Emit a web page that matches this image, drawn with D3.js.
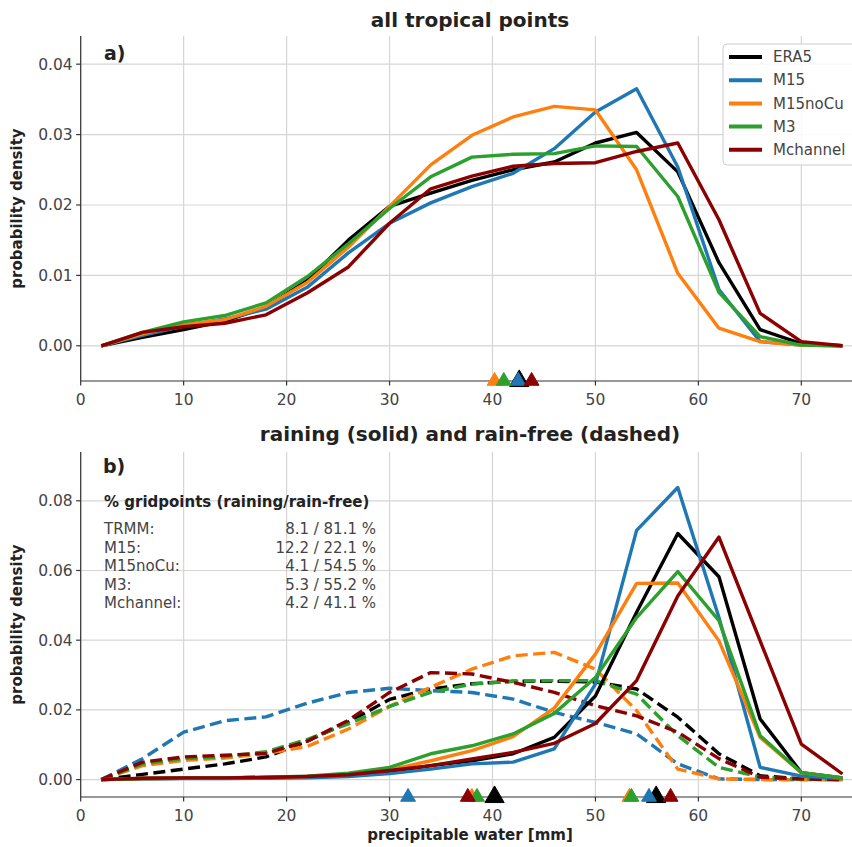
<!DOCTYPE html>
<html lang="en">
<head>
  <meta charset="utf-8">
  <title>Precipitable water PDFs</title>
  <script src="https://d3js.org/d3.v7.min.js"></script>
  <style>
    body { margin: 0; background: #fff; }
    svg { display: block; font-family: "DejaVu Sans", sans-serif; }
    .grid line { stroke: #d5d5d5; stroke-width: 1.2; }
    .tick-label { fill: #444; font-size: 15.5px; }
    .spine { stroke: #333; stroke-width: 1.2; }
  </style>
</head>
<body>
<script>
  // x positions of the bins (mm)
  const pw = [2, 6, 10, 14, 18, 22, 26, 30, 34, 38, 42, 46, 50, 54, 58, 62, 66, 70, 74];

  const models = ["ERA5", "M15", "M15noCu", "M3", "Mchannel"];
  const colors = ["#000000", "#1f77b4", "#ff7f0e", "#2ca02c", "#8b0000"];

  // panel a) all tropical points
  const allERA5     = [0, 0.0012, 0.0023, 0.0035, 0.0055, 0.0093, 0.0150, 0.0198, 0.0217, 0.0235, 0.0250, 0.0261, 0.0288, 0.0303, 0.0247, 0.0118, 0.0023, 0.0003, 0];
  const allM15      = [0, 0.0015, 0.0028, 0.0038, 0.0052, 0.0083, 0.0132, 0.0174, 0.0203, 0.0226, 0.0245, 0.0280, 0.0332, 0.0365, 0.0254, 0.0080, 0.0006, 0.0001, 0];
  const allM15noCu  = [0, 0.0017, 0.0030, 0.0037, 0.0056, 0.0090, 0.0140, 0.0198, 0.0257, 0.0299, 0.0325, 0.0340, 0.0335, 0.0250, 0.0103, 0.0025, 0.0006, 0.0001, 0];
  const allM3       = [0, 0.0019, 0.0034, 0.0043, 0.0061, 0.0098, 0.0145, 0.0195, 0.0240, 0.0268, 0.0272, 0.0273, 0.0284, 0.0283, 0.0212, 0.0076, 0.0013, 0.0001, 0];
  const allMchannel = [0, 0.0019, 0.0027, 0.0032, 0.0044, 0.0075, 0.0112, 0.0174, 0.0223, 0.0241, 0.0255, 0.0259, 0.0260, 0.0276, 0.0288, 0.0179, 0.0046, 0.0006, 0];
  const allMeans    = [42.6, 42.5, 40.2, 41.1, 43.8];

  // panel b) raining (solid)
  const rainERA5     = [0, 0.0003, 0.0004, 0.0005, 0.0006, 0.0008, 0.0012, 0.0022, 0.0040, 0.0054, 0.0074, 0.0121, 0.0240, 0.0480, 0.0706, 0.0582, 0.0174, 0.0020, 0.0005];
  const rainM15      = [0, 0.0002, 0.0003, 0.0003, 0.0004, 0.0005, 0.0009, 0.0017, 0.0030, 0.0045, 0.0050, 0.0088, 0.0274, 0.0715, 0.0838, 0.0465, 0.0035, 0.0010, 0.0003];
  const rainM15noCu  = [0, 0.0003, 0.0004, 0.0005, 0.0006, 0.0009, 0.0015, 0.0028, 0.0054, 0.0083, 0.0123, 0.0205, 0.0360, 0.0563, 0.0564, 0.0398, 0.0121, 0.0020, 0.0005];
  const rainM3       = [0, 0.0003, 0.0004, 0.0005, 0.0007, 0.0010, 0.0018, 0.0035, 0.0074, 0.0097, 0.0131, 0.0190, 0.0293, 0.0465, 0.0597, 0.0456, 0.0126, 0.0020, 0.0005];
  const rainMchannel = [0, 0.0004, 0.0005, 0.0005, 0.0006, 0.0009, 0.0014, 0.0026, 0.0040, 0.0059, 0.0078, 0.0104, 0.0161, 0.0284, 0.0527, 0.0696, 0.0398, 0.0102, 0.0016];
  const rainMeans    = [55.9, 55.2, 53.3, 53.5, 57.3];

  // panel b) rain-free (dashed)
  const dryERA5     = [0, 0.0015, 0.0030, 0.0045, 0.0065, 0.0110, 0.0165, 0.0230, 0.0260, 0.0275, 0.0282, 0.0282, 0.0280, 0.0260, 0.0179, 0.0074, 0.0011, 0.0002, 0];
  const dryM15      = [0, 0.0060, 0.0136, 0.0169, 0.0180, 0.0219, 0.0250, 0.0262, 0.0255, 0.0250, 0.0231, 0.0193, 0.0164, 0.0131, 0.0045, 0.0002, 0, 0, 0];
  const dryM15noCu  = [0, 0.0040, 0.0055, 0.0062, 0.0075, 0.0095, 0.0145, 0.0210, 0.0265, 0.0317, 0.0355, 0.0365, 0.0317, 0.0198, 0.0030, 0.0002, 0, 0, 0];
  const dryM3       = [0, 0.0045, 0.0060, 0.0066, 0.0080, 0.0115, 0.0160, 0.0210, 0.0250, 0.0274, 0.0282, 0.0284, 0.0284, 0.0245, 0.0126, 0.0035, 0.0007, 0.0001, 0];
  const dryMchannel = [0, 0.0050, 0.0065, 0.0070, 0.0075, 0.0110, 0.0170, 0.0250, 0.0307, 0.0303, 0.0279, 0.0250, 0.0212, 0.0183, 0.0136, 0.0060, 0.0007, 0.0002, 0];
  const dryMeans    = [40.2, 31.8, 38.0, 38.5, 37.6];

  // text box in panel b
  const statNames  = ["TRMM:", "M15:", "M15noCu:", "M3:", "Mchannel:"];
  const statValues = ["8.1 / 81.1 %", "12.2 / 22.1 %", "4.1 / 54.5 %", "5.3 / 55.2 %", "4.2 / 41.1 %"];

  const xTicks = [0, 10, 20, 30, 40, 50, 60, 70];
  const yTicksA = [0, 0.01, 0.02, 0.03, 0.04];
  const yTicksB = [0, 0.02, 0.04, 0.06, 0.08];

  const W = 852, H = 847;
  const svg = d3.select("body").append("svg").attr("width", W).attr("height", H);

  const x = d3.scaleLinear().domain([0, 75.7]).range([80.7, 860]);
  const yA = d3.scaleLinear().domain([-0.005, 0.044]).range([381, 36]);
  const yB = d3.scaleLinear().domain([-0.005, 0.094]).range([797, 452]);

  function drawAxes(y, yTicks) {
    const g = svg.append("g");
    const [y0, y1] = y.range();
    const grid = g.append("g").attr("class", "grid");
    grid.selectAll(".vx").data(xTicks).enter().append("line")
      .attr("x1", d => x(d)).attr("x2", d => x(d))
      .attr("y1", y0).attr("y2", y1);
    grid.selectAll(".hy").data(yTicks).enter().append("line")
      .attr("x1", x.range()[0]).attr("x2", x.range()[1])
      .attr("y1", d => y(d)).attr("y2", d => y(d));

    // spines
    g.append("line").attr("class", "spine")
      .attr("x1", x.range()[0]).attr("x2", x.range()[0]).attr("y1", y0).attr("y2", y1);
    g.append("line").attr("class", "spine")
      .attr("x1", x.range()[0]).attr("x2", x.range()[1]).attr("y1", y0).attr("y2", y0);

    // ticks and labels
    g.selectAll(".xt").data(xTicks).enter().append("line").attr("class", "spine")
      .attr("x1", d => x(d)).attr("x2", d => x(d)).attr("y1", y0).attr("y2", y0 + 4.5);
    g.selectAll(".xl").data(xTicks).enter().append("text").attr("class", "tick-label")
      .attr("x", d => x(d)).attr("y", y0 + 23.5).attr("text-anchor", "middle")
      .text(d => d);
    g.selectAll(".yt").data(yTicks).enter().append("line").attr("class", "spine")
      .attr("x1", x.range()[0] - 4.5).attr("x2", x.range()[0]).attr("y1", d => y(d)).attr("y2", d => y(d));
    g.selectAll(".yl").data(yTicks).enter().append("text").attr("class", "tick-label")
      .attr("x", x.range()[0] - 8).attr("y", d => y(d)).attr("dy", "0.35em")
      .attr("text-anchor", "end").text(d => d3.format(".2f")(d));

    g.append("text")
      .attr("transform", `translate(22,${(y0 + y1) / 2}) rotate(-90)`)
      .attr("text-anchor", "middle").attr("font-weight", "bold")
      .attr("font-size", "15px").attr("fill", "#222")
      .text("probability density");
  }

  function drawLines(y, series, dashed) {
    const line = d3.line().x((d, i) => x(pw[i])).y(d => y(d));
    series.forEach((s, k) => {
      svg.append("path").datum(s)
        .attr("d", line)
        .attr("fill", "none")
        .attr("stroke", colors[k])
        .attr("stroke-width", 3.4)
        .attr("stroke-linejoin", "round")
        .attr("stroke-dasharray", dashed ? "12,5.5" : null);
    });
  }

  function drawMeans(y, means) {
    const yb = y.range()[0];
    const tri = d3.symbol().type(d3.symbolTriangle);
    means.forEach((m, k) => {
      const big = k === 0;
      svg.append("path")
        .attr("d", tri.size(big ? 160 : 95)())
        .attr("transform", `translate(${x(m)},${yb})`)
        .attr("fill", colors[k])
        .attr("stroke", colors[k])
        .attr("stroke-width", 1);
    });
  }

  // ---- panel a ----
  drawAxes(yA, yTicksA);
  drawLines(yA, [allERA5, allM15, allM15noCu, allM3, allMchannel], false);
  drawMeans(yA, allMeans);

  svg.append("text").attr("x", 470).attr("y", 27).attr("text-anchor", "middle")
    .attr("font-weight", "bold").attr("font-size", "20px").attr("fill", "#222")
    .text("all tropical points");
  svg.append("text").attr("x", 104).attr("y", 60)
    .attr("font-weight", "bold").attr("font-size", "19px").attr("fill", "#222")
    .text("a)");

  // legend
  const lg = svg.append("g").attr("transform", "translate(723,44)");
  lg.append("rect").attr("width", 140).attr("height", 121).attr("rx", 4)
    .attr("fill", "#fff").attr("fill-opacity", 0.85).attr("stroke", "#ccc");
  models.forEach((m, k) => {
    const ly = 13 + k * 23.2;
    lg.append("line").attr("x1", 6).attr("x2", 39).attr("y1", ly).attr("y2", ly)
      .attr("stroke", colors[k]).attr("stroke-width", 4);
    lg.append("text").attr("x", 50).attr("y", ly).attr("dy", "0.35em")
      .attr("font-size", "15px").attr("fill", "#444").text(m);
  });

  // ---- panel b ----
  drawAxes(yB, yTicksB);
  drawLines(yB, [dryERA5, dryM15, dryM15noCu, dryM3, dryMchannel], true);
  drawLines(yB, [rainERA5, rainM15, rainM15noCu, rainM3, rainMchannel], false);
  drawMeans(yB, dryMeans);
  drawMeans(yB, rainMeans);

  svg.append("text").attr("x", 470).attr("y", 441).attr("text-anchor", "middle")
    .attr("font-weight", "bold").attr("font-size", "20px").attr("fill", "#222")
    .text("raining (solid) and rain-free (dashed)");
  svg.append("text").attr("x", 103).attr("y", 473)
    .attr("font-weight", "bold").attr("font-size", "19px").attr("fill", "#222")
    .text("b)");
  svg.append("text").attr("x", 470).attr("y", 840).attr("text-anchor", "middle")
    .attr("font-weight", "bold").attr("font-size", "15px").attr("fill", "#222")
    .text("precipitable water [mm]");

  svg.append("text").attr("x", 104).attr("y", 507)
    .attr("font-weight", "bold").attr("font-size", "15px").attr("fill", "#222")
    .text("% gridpoints (raining/rain-free)");
  statNames.forEach((n, i) => {
    const ty = 534 + i * 18.5;
    svg.append("text").attr("x", 104).attr("y", ty)
      .attr("font-size", "15px").attr("fill", "#444").text(n);
    svg.append("text").attr("x", 376).attr("y", ty).attr("text-anchor", "end")
      .attr("font-size", "15px").attr("fill", "#444").text(statValues[i]);
  });
</script>
</body>
</html>
